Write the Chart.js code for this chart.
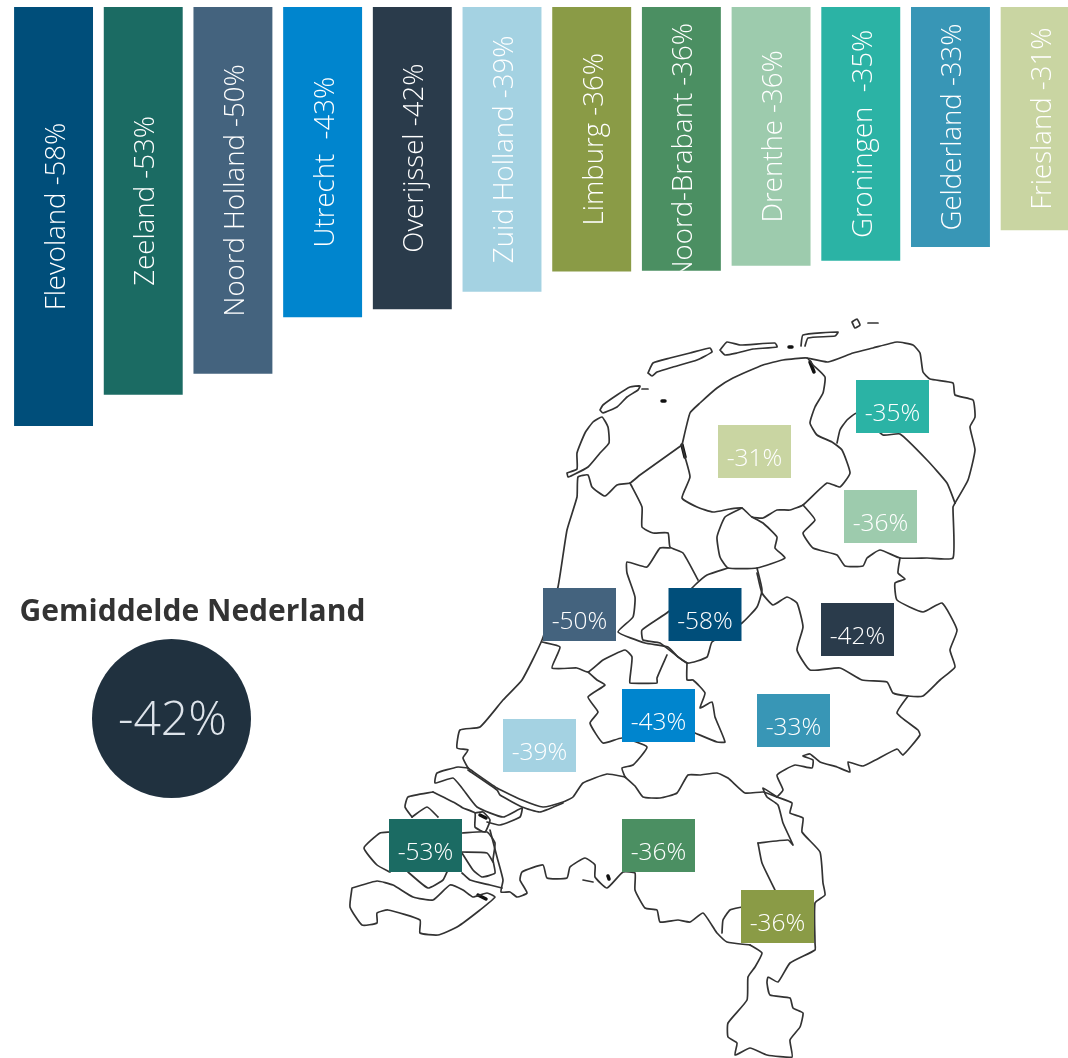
<!DOCTYPE html>
<html>
<head>
<meta charset="utf-8">
<title>Gemiddelde Nederland</title>
<script src="https://cdn.jsdelivr.net/npm/chart.js@4/dist/chart.umd.min.js"></script>
<style>
  html, body { margin: 0; padding: 0; background: #fff; overflow: hidden; }
  #wrap { position: relative; width: 1068px; height: 1058px; overflow: hidden; }
  #wrap canvas { position: absolute; left: 0; top: 0; }
</style>
</head>
<body>
<div id="wrap">
  <canvas id="bars" width="1085" height="1058" style="width:1085px;height:1058px"></canvas>
  <canvas id="map" width="1068" height="1058" style="width:1068px;height:1058px"></canvas>
</div>
<script>
// Provinces, sorted as in the bars
const provinces = ['Flevoland', 'Zeeland', 'Noord Holland', 'Utrecht ', 'Overijssel', 'Zuid Holland',
  'Limburg', 'Noord-Brabant', 'Drenthe', 'Groningen ', 'Gelderland', 'Friesland'];
const barValues = [-57.8, -53.5, -50.6, -42.8, -41.7, -39.3, -36.5, -36.4, -35.7, -35.0, -33.1, -30.8];
const barLabels = ['-58%', '-53%', '-50%', '-43%', '-42%', '-39%', '-36%', '-36%', '-36%', '-35%', '-33%', '-31%'];
const barColors = ['#004E7A', '#1B6B63', '#44637E', '#0085CE', '#2A3B4B', '#A4D2E2',
  '#8A9B46', '#4B8F62', '#9DCBAD', '#2BB3A5', '#3896B6', '#C9D5A2'];

const averageTitle = 'Gemiddelde Nederland';
const averageLabel = '-42%';

// Where each province's label sits on the map (map units)
const mapLabelX = [705, 425.5, 579.5, 658.5, 857.5, 539.5, 777.5, 658.5, 880.5, 892.5, 793.5, 754.5];
const mapLabelY = [614.5, 845.5, 614.5, 715.5, 629.5, 745.5, 916.5, 845.5, 516.5, 406.5, 720.5, 451.5];

// Map outline, one list per stretch of border
const mapLines = [
  // islands
  [[567,473],[577,469],[577,453],[585,433],[593,422],[602,417],[608,427],[609,443],[600,453],[588,467],[573,475],[568,477],[567,473]],
  [[600,410],[603,405],[617,395],[630,387],[640,386],[638,390],[627,397],[617,407],[603,413],[600,410]],
  [[642,389],[648,389]],
  [[648,373],[653,363],[670,358],[690,353],[710,348],[712,352],[697,360],[673,367],[657,372],[652,376],[648,373]],
  [[720,350],[727,342],[740,345],[775,343],[777,347],[753,349],[737,353],[725,355],[720,350]],
  [[801,346],[803,335],[838,332],[835,336],[808,338],[805,346]],
  [[852,322],[857,319],[860,325],[855,328],[852,322]],
  [[868,323],[878,323]],
  // Friesland
  [[682,445],[690,413],[700,403],[717,388],[733,378],[763,365],[783,360],[807,358],[813,365],[825,377],[823,393],[815,407],[810,423],[817,435],[832,442],[842,450],[850,473],[840,487],[827,483],[803,505],[790,510],[777,510],[763,518],[752,517],[742,508],[730,509],[713,512],[697,507],[682,498],[690,477],[685,457],[682,445]],
  // Groningen
  [[807,358],[828,362],[853,353],[873,348],[897,342],[913,345],[920,353],[923,372],[930,379],[953,383],[955,395],[973,400],[975,417],[970,427],[975,450],[968,480],[955,503]],
  [[955,503],[947,483],[927,460],[900,434],[883,435],[857,413],[847,420],[840,430],[837,443]],
  // Drenthe
  [[955,503],[953,507],[953,558],[927,558],[900,558],[880,550],[867,558],[863,566],[845,566],[837,555],[813,548],[803,533],[815,520],[803,505]],
  // Overijssel
  [[900,558],[898,573],[905,579],[895,583],[897,600],[923,612],[942,603],[957,630],[950,650],[955,667],[940,680],[923,696],[908,696],[893,693],[887,682],[862,680],[840,668],[810,670],[797,650],[803,627],[797,603],[787,597],[773,605],[762,593],[757,573]],
  [[742,508],[725,517],[717,537],[720,557],[728,568],[757,568],[785,558],[775,548],[777,537],[763,523],[752,517]],
  // Flevoland
  [[728,568],[707,575],[695,585],[668,612],[642,630],[643,640],[660,643],[687,663],[707,657],[712,642],[742,623],[757,607],[762,590],[757,568]],
  // Noord Holland
  [[682,445],[640,475],[630,483],[617,485],[605,496],[592,487],[588,475],[578,477],[577,497],[567,530],[558,587],[542,640],[522,680],[503,700],[480,727],[460,730],[457,748],[468,750],[463,758],[468,768]],
  [[630,483],[642,507],[642,527],[653,533],[668,533],[670,547],[683,553],[698,580]],
  [[670,548],[660,548],[647,567],[627,562],[627,573],[635,597],[633,617],[618,632],[645,643],[668,647],[678,657],[687,663]],
  [[542,642],[560,647],[552,668],[577,668],[588,672],[603,660],[625,650],[632,657],[630,678],[630,683],[657,683],[657,678],[667,655]],
  // Utrecht
  [[588,672],[597,680],[605,685],[588,697],[598,712],[590,723],[603,743],[622,738],[647,747],[633,765],[622,768],[625,777]],
  [[687,663],[687,680],[693,680],[705,693],[700,708],[712,702],[715,717],[725,742],[717,742],[695,733]],
  // Gelderland en Noord-Brabant
  [[625,777],[635,786],[643,797],[660,798],[677,793],[688,775],[700,775],[717,773],[728,778],[745,793],[763,792],[777,797]],
  [[777,797],[783,790],[777,775],[795,765],[812,768],[813,760],[803,756],[810,754],[820,762],[837,767],[850,772],[848,762],[863,766],[897,749],[903,755],[920,735],[918,730],[897,713],[908,696]],
  // rivers Zuid Holland
  [[625,777],[607,774],[583,783],[573,797],[563,802],[543,807],[522,800],[497,788],[468,768]],
  [[468,770],[497,790],[500,795],[522,807],[540,812],[563,803]],
  // Zeeland
  [[468,768],[458,767],[437,773],[435,783],[453,778],[462,788],[477,807],[503,817],[522,808],[520,817],[500,825],[487,822]],
  [[433,792],[408,797],[405,807],[412,817]],
  [[412,817],[427,807],[438,817]],
  [[433,792],[455,803],[463,808],[475,813],[475,827],[485,832],[490,820],[483,812],[475,813]],
  [[390,832],[380,833],[364,848],[377,865],[390,872]],
  [[462,833],[487,832],[495,843],[493,860],[495,873],[482,877],[473,870],[462,853]],
  [[462,852],[487,853],[493,862]],
  [[408,872],[428,888],[443,880],[447,872]],
  [[462,873],[470,880],[490,885],[502,888]],
  [[352,888],[377,881],[393,885],[413,897],[433,900],[450,885],[463,890],[473,897],[487,893],[495,897],[480,910],[457,927],[438,935],[420,933],[420,920],[388,910],[377,913],[377,923],[362,925],[350,907],[352,888]],
  // Noord-Brabant
  [[490,830],[497,857],[503,880],[501,892],[510,892],[517,897],[527,893],[520,880],[522,872],[543,865],[547,878],[567,878],[570,867],[585,858],[595,865],[595,877],[607,888],[623,872],[635,873],[635,890],[645,908],[657,910],[660,922],[678,920],[690,922],[703,913],[713,927],[717,933],[727,942],[750,945]],
  [[583,880],[593,882]],
  // Limburg
  [[742,907],[730,910],[723,920],[722,933]],
  [[758,843],[788,840],[793,845],[783,823],[778,805],[767,797],[763,788],[777,797]],
  [[777,797],[792,803],[790,813],[803,818],[802,832],[820,852],[823,883],[825,895],[815,903],[815,943],[815,950],[790,963],[778,982],[768,977],[767,983],[770,995],[790,998],[793,1008],[803,1013],[800,1027],[790,1040],[792,1057],[767,1055],[750,1048],[735,1055],[737,1043],[728,1037],[728,1023],[747,1000],[748,977],[755,967],[762,953],[750,945]],
  [[758,843],[762,863],[775,890]]
];

// Small dark spots on the map: tiny islands and dense bits of coast
const mapSpots = [
  [[662,401],[665,401]], [[789,347],[792,347]], [[810,362],[814,372]],
  [[480,815],[486,818]], [[478,895],[486,899]], [[608,876],[609,879]], [[682,445],[685,457]]
];

const lightFont = '"Open Sans", "Noto Sans", sans-serif';

// Rotated name inside each bar, cut off at the end of the bar
const barTextPlugin = {
  id: 'barText',
  afterDatasetsDraw(chart) {
    const ctx = chart.ctx;
    chart.getDatasetMeta(0).data.forEach((bar, i) => {
      const top = Math.min(bar.y, bar.base);
      const bottom = Math.max(bar.y, bar.base);
      const text = provinces[i] + ' ' + barLabels[i];
      ctx.save();
      ctx.beginPath();
      ctx.rect(bar.x - bar.width / 2, top, bar.width, bottom - top);
      ctx.clip();
      ctx.font = '300 27.6px ' + lightFont;
      ctx.fillStyle = '#fff';
      ctx.textBaseline = 'alphabetic';
      ctx.textAlign = 'center';
      const w = ctx.measureText(text).width;
      // too long for the bar: start from the top instead of centring
      const mid = w + 32 > bottom - top ? top + 16 + w / 2 : (top + bottom) / 2;
      ctx.translate(bar.x + 11, mid);
      ctx.rotate(-Math.PI / 2);
      ctx.fillText(text, 0, 0);
      ctx.restore();
    });
  }
};

// Coloured boxes on the map, the title and the text in the circle
const mapLabelPlugin = {
  id: 'mapLabels',
  afterDraw(chart) {
    const ctx = chart.ctx;
    const xs = chart.scales.x;
    const ys = chart.scales.y;
    ctx.save();
    ctx.textAlign = 'center';
    ctx.textBaseline = 'alphabetic';
    provinces.forEach((p, i) => {
      const x = xs.getPixelForValue(mapLabelX[i]);
      const y = ys.getPixelForValue(mapLabelY[i]);
      ctx.fillStyle = barColors[i];
      ctx.fillRect(x - 36.5, y - 26.5, 73, 53);
      ctx.fillStyle = '#fff';
      ctx.font = '300 24.5px ' + lightFont;
      ctx.fillText(barLabels[i], x, y + 14);
    });
    ctx.fillStyle = '#333';
    ctx.font = '700 30px ' + lightFont;
    ctx.fillText(averageTitle, xs.getPixelForValue(192.5), ys.getPixelForValue(621));
    ctx.fillStyle = '#DDE3EA';
    ctx.font = '300 48px ' + lightFont;
    ctx.fillText(averageLabel, xs.getPixelForValue(172.5), ys.getPixelForValue(735));
    ctx.restore();
  }
};

new Chart(document.getElementById('bars').getContext('2d'), {
  type: 'bar',
  data: {
    labels: provinces,
    datasets: [{
      data: barValues,
      backgroundColor: barColors,
      categoryPercentage: 0.88,
      barPercentage: 1
    }]
  },
  options: {
    responsive: false,
    animation: false,
    layout: { padding: { left: 8.7, right: 0, top: 7, bottom: 0 } },
    plugins: { legend: { display: false }, tooltip: { enabled: false } },
    scales: {
      x: { display: false },
      y: { display: false, min: -145, max: 0 }
    }
  },
  plugins: [barTextPlugin]
});

// The map sits in a second chart on top, its units follow the picture
const toSet = (line, width, color) => ({
  data: line.map(p => ({ x: p[0], y: p[1] })),
  showLine: true,
  borderColor: color,
  borderWidth: width,
  borderJoinStyle: 'round',
  borderCapStyle: 'round',
  pointRadius: 0,
  tension: 0.15,
  clip: false
});

new Chart(document.getElementById('map').getContext('2d'), {
  type: 'scatter',
  data: {
    datasets: [
      ...mapLines.map(line => toSet(line, 1.7, '#333')),
      ...mapSpots.map(line => toSet(line, 3.5, '#111')),
      {
        data: [{ x: 171.5, y: 718.5 }],
        pointRadius: 79.5,
        backgroundColor: '#20313F',
        borderWidth: 0
      }
    ]
  },
  options: {
    responsive: false,
    animation: false,
    layout: { autoPadding: false, padding: 0 },
    plugins: { legend: { display: false }, tooltip: { enabled: false } },
    scales: {
      x: { display: false, min: 0, max: 1068 },
      y: { display: false, min: 0, max: 1058, reverse: true }
    }
  },
  plugins: [mapLabelPlugin]
});
</script>
</body>
</html>
